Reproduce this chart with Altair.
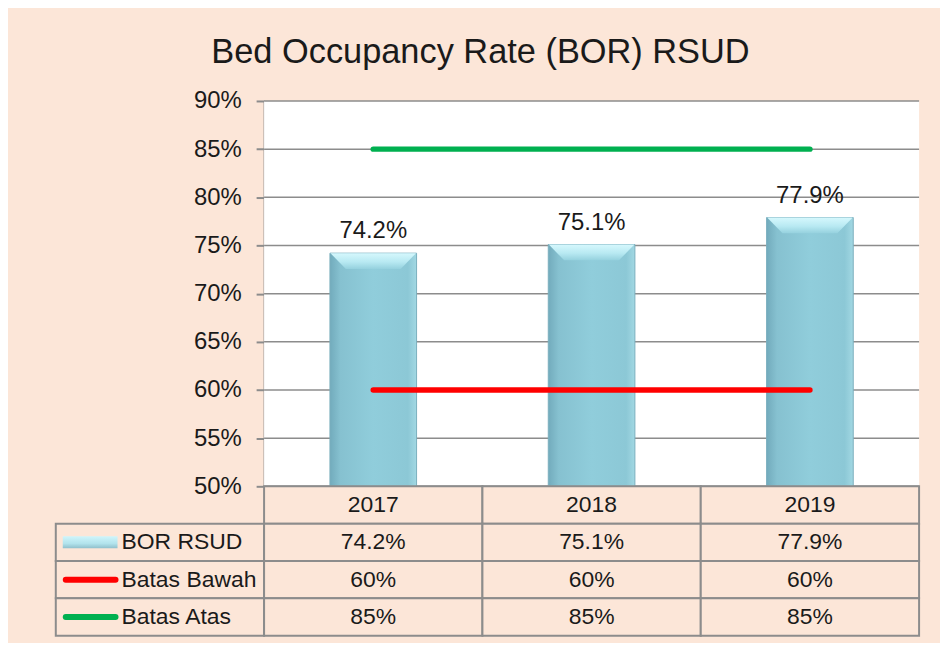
import altair as alt
import pandas as pd

# ---------------- data ----------------
title_text = "Bed Occupancy Rate (BOR) RSUD"
years = ["2017", "2018", "2019"]
bor_rsud = [74.2, 75.1, 77.9]
batas_bawah = [60, 60, 60]
batas_atas = [85, 85, 85]
series = ["BOR RSUD", "Batas Bawah", "Batas Atas"]
y_ticks = [50, 55, 60, 65, 70, 75, 80, 85, 90]

# ---------------- style / layout ----------------
PEACH = "#FCE6D8"
GRID = "#8C8C8C"
TEXT = "#1a1a1a"
FONT = "Liberation Sans"
series_colors = ["#A6DEEA", "#FF0000", "#00B050"]
label_col = 0.954            # width of the table's label column, in column units
n = len(years)
W = 867
PLOT_H = 387
TABLE_H = 150
px_per_col = W / (n + label_col)
BAR_W = 87
BEVEL_PATH = "M -1 0 L 1 0 L 0.64 0.37 L -0.64 0.37 Z"

x_scale = alt.Scale(domain=[-label_col, n], nice=False, zero=False, padding=0)
y_scale = alt.Scale(domain=[min(y_ticks), max(y_ticks)], nice=False, zero=False, padding=0)
y_axis = alt.Axis(
    values=y_ticks, labelExpr="datum.value + '%'", title=None, grid=False,
    offset=-label_col * px_per_col, labelFont=FONT, labelFontSize=24,
    labelColor=TEXT, labelPadding=15, tickSize=8, tickWidth=2, tickColor=GRID,
    domainColor=GRID, domainWidth=2,
)

def X(field):
    return alt.X(field, type="quantitative", scale=x_scale, axis=None)

def Y(field):
    return alt.Y(field, type="quantitative", scale=y_scale, axis=y_axis)

# ---------------- tables ----------------
bars_df = pd.DataFrame({
    "year": years,
    "xc": [i + 0.5 for i in range(n)],
    "value": bor_rsud,
    "label": [f"{v:.1f}%" for v in bor_rsud],
})
lines_df = pd.DataFrame(
    [{"series": series[1], "xc": i + 0.5, "value": v} for i, v in enumerate(batas_bawah)]
    + [{"series": series[2], "xc": i + 0.5, "value": v} for i, v in enumerate(batas_atas)]
)
bg_df = pd.DataFrame({"x0": [0], "x1": [n], "y0": [min(y_ticks)], "y1": [max(y_ticks)]})
grid_df = pd.DataFrame({"y": y_ticks, "x0": 0, "x1": n})

# ---------------- top: chart ----------------
bar_fill = alt.Gradient(
    gradient="linear", x1=0, x2=1, y1=0, y2=0,
    stops=[
        alt.GradientStop(color="#72ABBC", offset=0),
        alt.GradientStop(color="#86C1D0", offset=0.12),
        alt.GradientStop(color="#90CDDB", offset=0.5),
        alt.GradientStop(color="#8CC8D6", offset=0.9),
        alt.GradientStop(color="#A2D8E3", offset=1),
    ],
)
bevel_fill = alt.Gradient(
    gradient="linear", x1=0, x2=0, y1=0, y2=1,
    stops=[
        alt.GradientStop(color="#D6F8FD", offset=0),
        alt.GradientStop(color="#B8E9F2", offset=0.55),
        alt.GradientStop(color="#95D1DE", offset=1),
    ],
)

bg = alt.Chart(bg_df).mark_rect(fill="white").encode(x=X("x0"), x2="x1", y=Y("y0"), y2="y1")
grid = alt.Chart(grid_df).mark_rule(color=GRID, strokeWidth=1.5).encode(x=X("x0"), x2="x1", y=Y("y"))
bars = alt.Chart(bars_df).mark_bar(size=BAR_W, color=bar_fill, stroke="#7AAEBD", strokeWidth=1).encode(
    x=X("xc"), y=Y("value"), y2=alt.datum(min(y_ticks))
)
bevel = alt.Chart(bars_df).mark_point(
    shape=BEVEL_PATH, size=(BAR_W - 1) ** 2, filled=True, color=bevel_fill, opacity=1, strokeWidth=0
).encode(x=X("xc"), y=Y("value"))
lines = alt.Chart(lines_df).mark_line(strokeWidth=5.5, strokeCap="round").encode(
    x=X("xc"), y=Y("value"),
    color=alt.Color("series:N", scale=alt.Scale(domain=series, range=series_colors), legend=None),
)
labels = alt.Chart(bars_df).mark_text(
    dy=-15, baseline="alphabetic", fontSize=24, font=FONT, color=TEXT
).encode(x=X("xc"), y=Y("value"), text="label:N")

top = alt.layer(bg, grid, bars, bevel, lines, labels).properties(width=W, height=PLOT_H)

# ---------------- bottom: data table ----------------
rows = ["header"] + series
values_by_series = [bor_rsud, batas_bawah, batas_atas]
cells = []
for i, yr in enumerate(years):
    cells.append({"row": "header", "x0": i, "x1": i + 1, "xc": i + 0.5, "text": yr})
for s, vals in zip(series, values_by_series):
    cells.append({"row": s, "x0": -label_col, "x1": 0, "xc": -label_col / 2, "text": ""})
    for i, v in enumerate(vals):
        txt = f"{v:.1f}%" if s == "BOR RSUD" else f"{v:g}%"
        cells.append({"row": s, "x0": i, "x1": i + 1, "xc": i + 0.5, "text": txt})
cells_df = pd.DataFrame(cells)
legend_df = pd.DataFrame({"row": series, "series": series, "x0": -label_col})

Yr = alt.Y("row:N", scale=alt.Scale(domain=rows, paddingInner=0, paddingOuter=0), axis=None)

cell_rects = alt.Chart(cells_df).mark_rect(fill=PEACH, stroke=GRID, strokeWidth=2).encode(
    x=X("x0"), x2="x1", y=Yr
)
cell_text = alt.Chart(cells_df).mark_text(fontSize=23, font=FONT, color=TEXT).encode(
    x=X("xc"), y=Yr, text="text:N"
)
glyph_fill = alt.Gradient(
    gradient="linear", x1=0, x2=0, y1=0, y2=1,
    stops=[
        alt.GradientStop(color="#CFF5FB", offset=0),
        alt.GradientStop(color="#B2E3EC", offset=0.6),
        alt.GradientStop(color="#8FBFCB", offset=1),
    ],
)
bor_glyph = alt.Chart(legend_df[legend_df.series == series[0]]).mark_rect(
    height=12, xOffset=7, x2Offset=62, color=glyph_fill
).encode(x=X("x0"), x2="x0", y=Yr)
line_glyphs = alt.Chart(legend_df[legend_df.series != series[0]]).mark_rule(
    strokeWidth=6, strokeCap="round", xOffset=10, x2Offset=60
).encode(
    x=X("x0"), x2="x0", y=Yr,
    color=alt.Color("series:N", scale=alt.Scale(domain=series, range=series_colors), legend=None),
)
legend_text = alt.Chart(legend_df).mark_text(
    align="left", dx=66, fontSize=23, font=FONT, color=TEXT
).encode(x=X("x0"), y=Yr, text="series:N")

table = alt.layer(cell_rects, cell_text, bor_glyph, line_glyphs, legend_text).properties(
    width=W, height=TABLE_H
)

chart = alt.vconcat(top, table, spacing=0, bounds="flush").properties(
    title=alt.TitleParams(
        text=title_text, font=FONT, fontSize=34.5, fontWeight="normal", color=TEXT,
        anchor="middle", offset=19, dx=-7,
    ),
    background=PEACH,
    padding={"left": 47, "top": 25, "right": 20, "bottom": 5},
).configure_view(stroke=None)

chart.save("out.html", embed_options={"renderer": "svg", "actions": False})
